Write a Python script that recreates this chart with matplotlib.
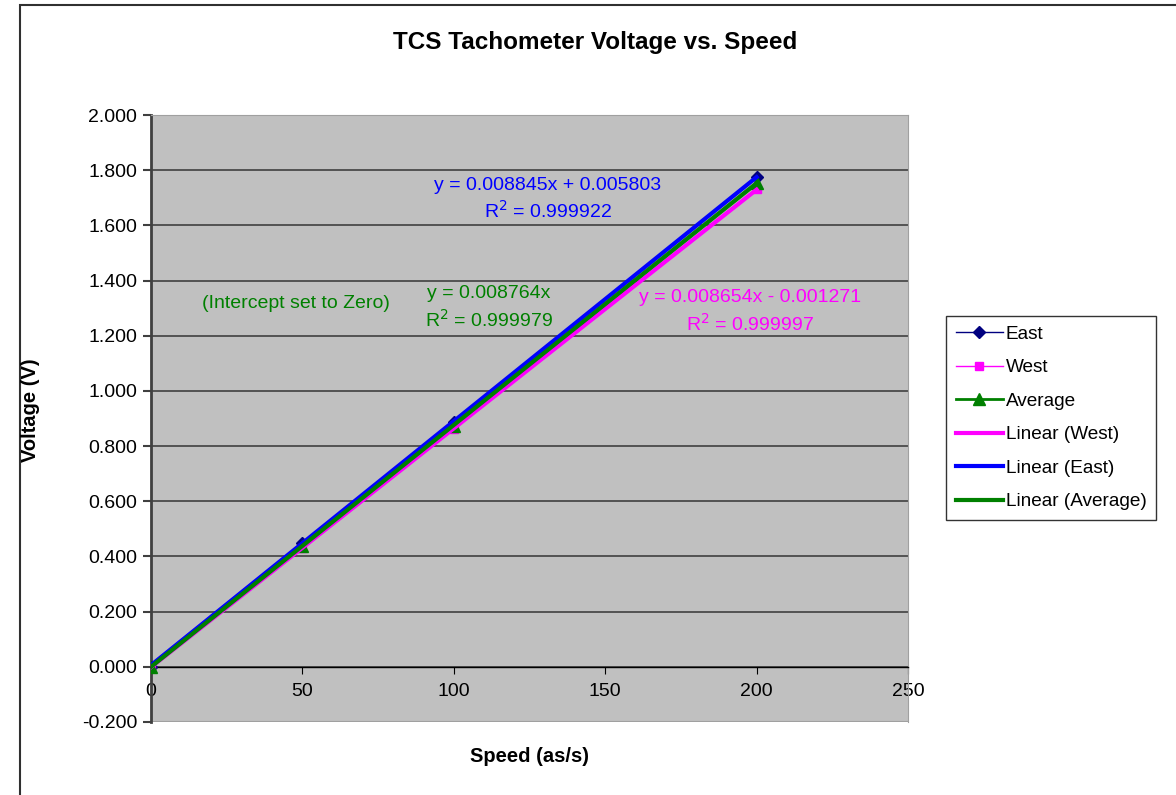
import numpy as np
import matplotlib.pyplot as plt
from matplotlib.patches import Rectangle

plt.rcParams['font.family'] = ['Liberation Sans', 'DejaVu Sans']

# measured points (speed in as/s, voltage in V)
speed = [0, 50, 100, 200]
east = [0.000, 0.450, 0.886, 1.774]
west = [0.000, 0.432, 0.862, 1.730]
average = [0.000, 0.438, 0.872, 1.752]

# trendline coefficients (slope, intercept)
fit_east = (0.008845, 0.005803)
fit_west = (0.008654, -0.001271)
fit_avg = (0.008764, 0.0)

fig = plt.figure(figsize=(11.76, 7.95), dpi=100)
fig.patch.set_facecolor('white')
# outer chart border
fig.patches.append(Rectangle((20 / 1176, -0.01), 1.2, 1 - 5 / 795 + 0.01,
                             transform=fig.transFigure, fill=False,
                             edgecolor='#303030', lw=1.5))

ax = fig.add_axes([151 / 1176, 1 - 722 / 795, (908 - 151) / 1176, (722 - 115) / 795])
ax.set_facecolor('#C0C0C0')

ax.plot(speed, east, color='#000080', lw=1, marker='D', ms=6, label='East', zorder=3)
ax.plot(speed, west, color='#FF00FF', lw=1, marker='s', ms=6, label='West', zorder=3)
ax.plot(speed, average, color='#008000', lw=2, marker='^', ms=8, label='Average', zorder=3)

xs = np.array([0, 200])
ax.plot(xs, fit_west[0] * xs + fit_west[1], color='#FF00FF', lw=3, label='Linear (West)', zorder=4)
ax.plot(xs, fit_east[0] * xs + fit_east[1], color='#0000FF', lw=3, label='Linear (East)', zorder=4)
ax.plot(xs, fit_avg[0] * xs + fit_avg[1], color='#008000', lw=3, label='Linear (Average)', zorder=4)

ax.set_xlim(0, 250)
ax.set_ylim(-0.2, 2.0)
ax.set_yticks(np.arange(-0.2, 2.01, 0.2))
ax.set_yticklabels([f'{v:.3f}' for v in np.arange(-0.2, 2.01, 0.2)])
ax.set_xticks(range(0, 251, 50))
ax.yaxis.grid(True, color='#404040', lw=1.2)
ax.set_axisbelow(True)

ax.spines['bottom'].set_position(('data', 0))
ax.spines['bottom'].set_color('black')
ax.spines['bottom'].set_linewidth(1)
ax.spines['left'].set_color('#404040')
ax.spines['left'].set_linewidth(2)
ax.spines['top'].set_color('#A0A0A0')
ax.spines['right'].set_color('#A0A0A0')
ax.axhline(-0.2, color='#A0A0A0', lw=1.5, zorder=1)
ax.tick_params(axis='both', labelsize=14, colors='black')
ax.tick_params(axis='x', length=5, pad=7)
ax.tick_params(axis='y', length=6, width=1.5, color='#404040', pad=4)

fig.text(595 / 1176, 1 - 42 / 795, 'TCS Tachometer Voltage vs. Speed',
         ha='center', va='center', fontsize=17.5, fontweight='bold')
fig.text(31 / 1176, 1 - 410 / 795, 'Voltage (V)', rotation=90,
         ha='center', va='center', fontsize=14.5, fontweight='bold')
fig.text(529 / 1176, 1 - 757 / 795, 'Speed (as/s)',
         ha='center', va='center', fontsize=14.5, fontweight='bold')

fs = 14
fig.text(548 / 1176, 1 - 185 / 795, 'y = 0.008845x + 0.005803', color='#0000FF',
         ha='center', va='center', fontsize=fs)
fig.text(548 / 1176, 1 - 211 / 795, 'R$^2$ = 0.999922', color='#0000FF',
         ha='center', va='center', fontsize=fs)
fig.text(296 / 1176, 1 - 304 / 795, '(Intercept set to Zero)', color='#008000',
         ha='center', va='center', fontsize=fs)
fig.text(489 / 1176, 1 - 294 / 795, 'y = 0.008764x', color='#008000',
         ha='center', va='center', fontsize=fs)
fig.text(489 / 1176, 1 - 320 / 795, 'R$^2$ = 0.999979', color='#008000',
         ha='center', va='center', fontsize=fs)
fig.text(750 / 1176, 1 - 298 / 795, 'y = 0.008654x - 0.001271', color='#FF00FF',
         ha='center', va='center', fontsize=fs)
fig.text(750 / 1176, 1 - 324 / 795, 'R$^2$ = 0.999997', color='#FF00FF',
         ha='center', va='center', fontsize=fs)

handles, labels = ax.get_legend_handles_labels()
leg = fig.legend(handles, labels, loc='upper left',
                 bbox_to_anchor=(946 / 1176, 1 - 316 / 795),
                 fontsize=13.7, frameon=True, fancybox=False,
                 edgecolor='black', handlelength=2.5, handletextpad=0.15,
                 labelspacing=0.85, borderpad=0.5, borderaxespad=0)
leg.get_frame().set_linewidth(1)

fig.savefig('out.png', dpi=100)
